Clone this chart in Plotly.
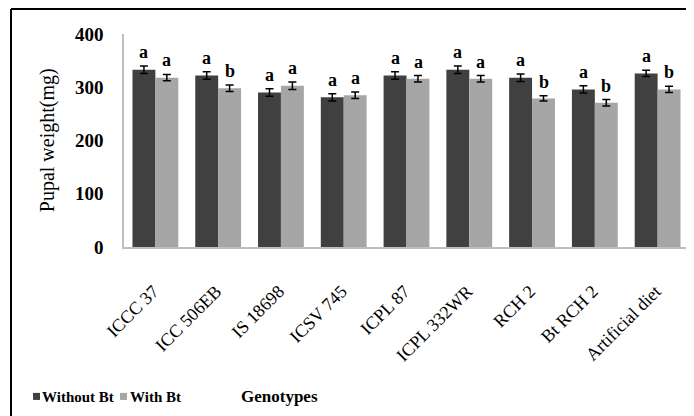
import plotly.graph_objects as go

categories = ["ICCC 37", "ICC 506EB", "IS 18698", "ICSV 745", "ICPL 87",
              "ICPL 332WR", "RCH 2", "Bt RCH 2", "Artificial diet"]
without_bt = [333, 322, 290, 281, 322, 333, 318, 296, 326]
with_bt = [318, 298, 303, 285, 316, 316, 279, 271, 296]
without_err = [7, 7, 7, 7, 7, 7, 7, 7, 6]
with_err = [6, 6, 7, 6, 6, 6, 5, 6, 6]
without_letters = ["a"] * 9
with_letters = ["a", "b", "a", "a", "a", "a", "b", "b", "b"]
y_ticks = [0, 100, 200, 300, 400]
series_names = ["Without Bt", "With Bt"]
series_colors = ["#404040", "#a6a6a6"]

serif = "Liberation Serif"

fig = go.Figure()
fig.add_trace(go.Bar(
    x=categories, y=without_bt, name=series_names[0],
    marker=dict(color=series_colors[0], line=dict(width=0)),
    error_y=dict(type="data", array=without_err, color="black", thickness=1.5, width=4),
))
fig.add_trace(go.Bar(
    x=categories, y=with_bt, name=series_names[1],
    marker=dict(color=series_colors[1], line=dict(width=0)),
    error_y=dict(type="data", array=with_err, color="black", thickness=1.5, width=4),
))

for i, c in enumerate(categories):
    fig.add_annotation(x=c, y=without_bt[i] + without_err[i], text="<b>" + without_letters[i] + "</b>",
                       xshift=-11.5, yshift=2, yanchor="bottom", xanchor="center", showarrow=False,
                       font=dict(family=serif, size=18, color="black"))
    fig.add_annotation(x=c, y=with_bt[i] + with_err[i], text="<b>" + with_letters[i] + "</b>",
                       xshift=11.5, yshift=2, yanchor="bottom", xanchor="center", showarrow=False,
                       font=dict(family=serif, size=18, color="black"))

fig.add_annotation(xref="paper", yref="paper", x=-0.136, y=0.502, xanchor="center", yanchor="middle",
                   text="Pupal weight(mg)", textangle=-90, showarrow=False,
                   font=dict(family=serif, size=20, color="black"))
fig.add_annotation(xref="paper", yref="paper", x=0.276, y=-0.704, xanchor="center", yanchor="middle",
                   text="<b>Genotypes</b>", showarrow=False,
                   font=dict(family=serif, size=17, color="black"))

# legend drawn as swatches + text
legend_sw = [(-0.161, -0.1487), (-0.0071, 0.0053)]
legend_tx = [-0.148, 0.0078]
for name, col, (s0, s1), tx in zip(series_names, series_colors, legend_sw, legend_tx):
    fig.add_shape(type="rect", xref="paper", yref="paper", x0=s0, x1=s1, y0=-0.685, y1=-0.718,
                  fillcolor=col, line=dict(width=0))
    fig.add_annotation(xref="paper", yref="paper", x=tx, y=-0.704, xanchor="left", yanchor="middle",
                       text="<b>%s</b>" % name, showarrow=False,
                       font=dict(family=serif, size=15, color="black"))

# outer frame
fig.add_shape(type="line", xref="paper", yref="paper", x0=-0.2, x1=-0.2, y0=1.117, y1=-0.9,
              line=dict(color="black", width=2))
fig.add_shape(type="line", xref="paper", yref="paper", x0=-0.2, x1=1.1, y0=1.117, y1=1.117,
              line=dict(color="black", width=2))

fig.update_layout(
    width=694, height=416,
    margin=dict(l=116, r=13, t=26, b=177, autoexpand=False),
    paper_bgcolor="white", plot_bgcolor="white",
    barmode="group", bargap=0.27, bargroupgap=0,
    showlegend=False,
    xaxis=dict(showline=True, linecolor="#bfbfbf", linewidth=1.5, tickangle=-45, automargin=False,
               tickfont=dict(family=serif, size=18, color="black"), ticks="",
               ticklabelstandoff=25, ticklabelshift=-2),
    yaxis=dict(range=[0, 400], tickvals=y_ticks, ticktext=["<b>%d</b>" % v for v in y_ticks],
               showgrid=False, showline=True, automargin=False,
               linecolor="#bfbfbf", linewidth=1.5, ticks="",
               tickfont=dict(family=serif, size=19, color="black"), ticklabelstandoff=15),
)

fig.write_html("out.html")
